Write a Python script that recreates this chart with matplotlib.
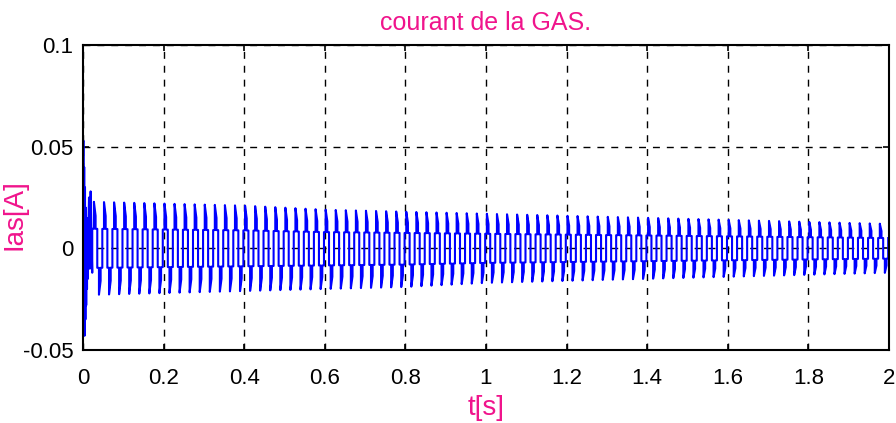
import numpy as np
import matplotlib.pyplot as plt

plt.rcParams['font.family'] = ['Liberation Sans', 'DejaVu Sans']

# stator current of the machine, 40 Hz six-step waveform
freq = 40.0
t_end = 2.0

# envelope of the positive and negative peaks (s, A)
env_t = [0.0, 0.2, 0.4, 0.6, 0.8, 1.0, 1.2, 1.4, 1.6, 1.8, 2.0]
env_pos = [0.023, 0.022, 0.021, 0.019, 0.018, 0.017, 0.016, 0.015, 0.014, 0.013, 0.012]
env_neg = [0.023, 0.022, 0.021, 0.020, 0.019, 0.017, 0.016, 0.015, 0.014, 0.013, 0.012]

# one period of the stepped current, phase (0..1) and level relative to peak
cycle_phase = [0.000, 0.167, 0.167, 0.333, 0.333, 0.500, 0.500,
               0.667, 0.667, 0.833, 0.833, 1.000]
cycle_level = [0.42, 0.42, 1.00, 0.70, 0.42, 0.42, -0.42,
               -0.42, -1.00, -0.70, -0.42, -0.42]

# start-up transient
start_t = [0.000, 0.001, 0.002, 0.003, 0.004, 0.005, 0.006, 0.007, 0.008,
           0.009, 0.010, 0.011, 0.012, 0.013, 0.015, 0.017, 0.019, 0.021, 0.023]
start_i = [0.000, 0.053, -0.030, 0.040, -0.043, 0.030, -0.035, 0.020, -0.028,
           0.015, -0.020, 0.010, -0.015, 0.006, 0.025, -0.010, 0.028, 0.005, -0.012]

x_ticks = [0, 0.2, 0.4, 0.6, 0.8, 1, 1.2, 1.4, 1.6, 1.8, 2]
x_labels = ['0', '0.2', '0.4', '0.6', '0.8', '1', '1.2', '1.4', '1.6', '1.8', '2']
y_ticks = [-0.05, 0, 0.05, 0.1]
y_labels = ['-0.05', '0', '0.05', '0.1']

# build the time series period by period
n_cycles = int(round(freq * t_end))
t_list = list(start_t)
i_list = list(start_i)
ph = np.array(cycle_phase)
lv = np.array(cycle_level)
for k in range(n_cycles):
    tt = (k + ph) / freq + start_t[-1]
    pos = np.interp(tt, env_t, env_pos)
    neg = np.interp(tt, env_t, env_neg)
    ii = np.where(lv >= 0, lv * pos, lv * neg)
    keep = tt <= t_end
    t_list.extend(tt[keep])
    i_list.extend(ii[keep])
t = np.array(t_list)
i_as = np.array(i_list)

pink = '#f0148c'

fig = plt.figure(figsize=(8.96, 4.23), dpi=100)
ax = fig.add_axes([0.0926, 0.1726, 0.8996, 0.721])
ax.plot(t, i_as, color='#0000ff', linewidth=1.5)

ax.set_xlim(0, 2)
ax.set_ylim(-0.05, 0.1)
ax.set_xticks(x_ticks)
ax.set_xticklabels(x_labels)
ax.set_yticks(y_ticks)
ax.set_yticklabels(y_labels)
ax.tick_params(direction='in', length=4, width=1.2, labelsize=16, top=True, right=True)
ax.tick_params(axis='x', pad=13)
ax.tick_params(axis='y', pad=7)
ax.grid(True, color='black', linestyle=(0, (5, 5)), linewidth=1)
for s in ax.spines.values():
    s.set_linewidth(1.5)

ax.set_title('courant de la GAS.', color=pink, fontsize=18, pad=11)
ax.set_xlabel('t[s]', color=pink, fontsize=20, labelpad=4)
ax.set_ylabel('Ias[A]', color=pink, fontsize=20)
ax.yaxis.set_label_coords(-0.069, 0.443)

fig.savefig('out.png', dpi=100)
